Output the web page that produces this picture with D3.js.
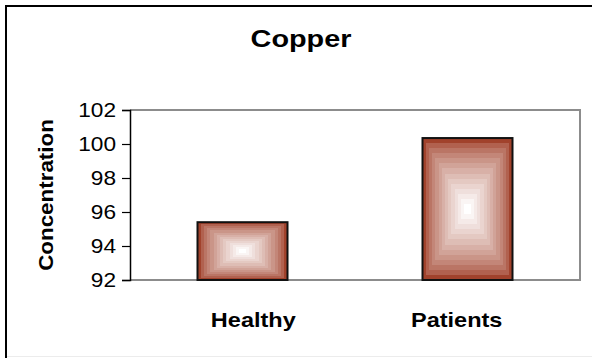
<!DOCTYPE html>
<html>
<head>
<meta charset="utf-8">
<script src="https://cdn.jsdelivr.net/npm/d3@7"></script>
<style>
  html, body { margin: 0; padding: 0; background: #fff; }
  svg { display: block; font-family: "Liberation Sans", Arial, sans-serif; }
</style>
</head>
<body>
<svg id="chart" width="592" height="358"></svg>
<script>
// Copper concentration by group
const categories = ["Healthy", "Patients"];
const values = [95.4, 100.35];
const yTicks = [92, 94, 96, 98, 100, 102];
const chartTitle = "Copper";
const yTitle = "Concentration";

const W = 592, H = 358;
const plot = { left: 130, top: 110, right: 580, bottom: 280 };

const svg = d3.select("#chart");

// Outer chart frame
svg.append("rect")
  .attr("x", 6).attr("y", 6)
  .attr("width", W + 10).attr("height", H + 10)
  .attr("fill", "#fff")
  .attr("stroke", "#000").attr("stroke-width", 2);
svg.append("line")
  .attr("x1", 7).attr("x2", W).attr("y1", 356.5).attr("y2", 356.5)
  .attr("stroke", "#ececec").attr("stroke-width", 1);

const x = d3.scaleBand()
  .domain(categories)
  .range([plot.left, plot.right])
  .paddingInner(0.6).paddingOuter(0.3);

const y = d3.scaleLinear()
  .domain([d3.min(yTicks), d3.max(yTicks)])
  .range([plot.bottom, plot.top]);

// Plot area border (gray on top, right, bottom)
svg.append("path")
  .attr("d", `M${plot.left},${plot.top}H${plot.right}V${plot.bottom}H${plot.left}`)
  .attr("fill", "none").attr("stroke", "#8c8c8c").attr("stroke-width", 2);

// Concentric rectangular gradient for each bar
const steps = 14;
const edge = d3.color("#a1422c");
const shade = d3.interpolateRgb(edge, "#ffffff");

const bars = svg.append("g").selectAll("g")
  .data(categories.map((c, i) => ({ c, v: values[i] })))
  .join("g");

bars.each(function(d) {
  const x0 = x(d.c), w = x.bandwidth();
  const y0 = y(d.v), h = y(d3.min(yTicks)) - y0;
  const g = d3.select(this);
  g.selectAll("rect.step")
    .data(d3.range(steps))
    .join("rect")
    .attr("class", "step")
    .attr("shape-rendering", "crispEdges")
    .attr("x", k => x0 + (w / 2) * k / steps)
    .attr("y", k => y0 + (h / 2) * k / steps)
    .attr("width", k => w * (1 - k / steps))
    .attr("height", k => h * (1 - k / steps))
    .attr("fill", k => shade(Math.pow(k / (steps - 1), 0.7)));
  g.append("rect")
    .attr("x", x0).attr("y", y0)
    .attr("width", w).attr("height", h)
    .attr("fill", "none").attr("stroke", "#111").attr("stroke-width", 2);
});

// Text is drawn slightly wide, stretched along its baseline
function widen(sel, k) {
  sel.each(function() {
    const t = d3.select(this);
    const x0 = +t.attr("x") || 0;
    t.attr("transform", `translate(${x0},0) scale(${k},1) translate(${-x0},0)`);
  });
}

// Y axis
const yAxis = svg.append("g")
  .attr("transform", `translate(${plot.left},0)`)
  .call(d3.axisLeft(y).tickValues(yTicks).tickSize(8).tickPadding(0).tickFormat(d3.format("d")));
yAxis.select(".domain").attr("stroke", "#000").attr("stroke-width", 1.5);
yAxis.selectAll(".tick line").attr("stroke", "#000").attr("stroke-width", 1.2);
yAxis.selectAll(".tick text")
  .attr("x", -14)
  .attr("font-family", "Liberation Sans, Arial, sans-serif")
  .attr("font-size", 21).attr("fill", "#000")
  .call(widen, 1.08);

// Category labels sit slightly inward of the bar centres
const labelShift = x.bandwidth() * 0.12;
svg.append("g").selectAll("text")
  .data(categories)
  .join("text")
  .attr("x", (c, i) => x(c) + x.bandwidth() / 2 + (i === 0 ? labelShift : -labelShift))
  .attr("y", 327)
  .attr("text-anchor", "middle")
  .attr("font-size", 21).attr("font-weight", "bold")
  .text(c => c)
  .call(widen, 1.12);

// Titles
svg.append("text")
  .attr("x", 301).attr("y", 47)
  .attr("text-anchor", "middle")
  .attr("font-size", 24).attr("font-weight", "bold")
  .text(chartTitle)
  .call(widen, 1.2);

svg.append("g")
  .attr("transform", `translate(53,${(plot.top + plot.bottom) / 2}) rotate(-90)`)
  .append("text")
  .attr("x", 0).attr("y", 0)
  .attr("text-anchor", "middle")
  .attr("font-size", 20).attr("font-weight", "bold")
  .text(yTitle)
  .call(widen, 1.12);
</script>
</body>
</html>
